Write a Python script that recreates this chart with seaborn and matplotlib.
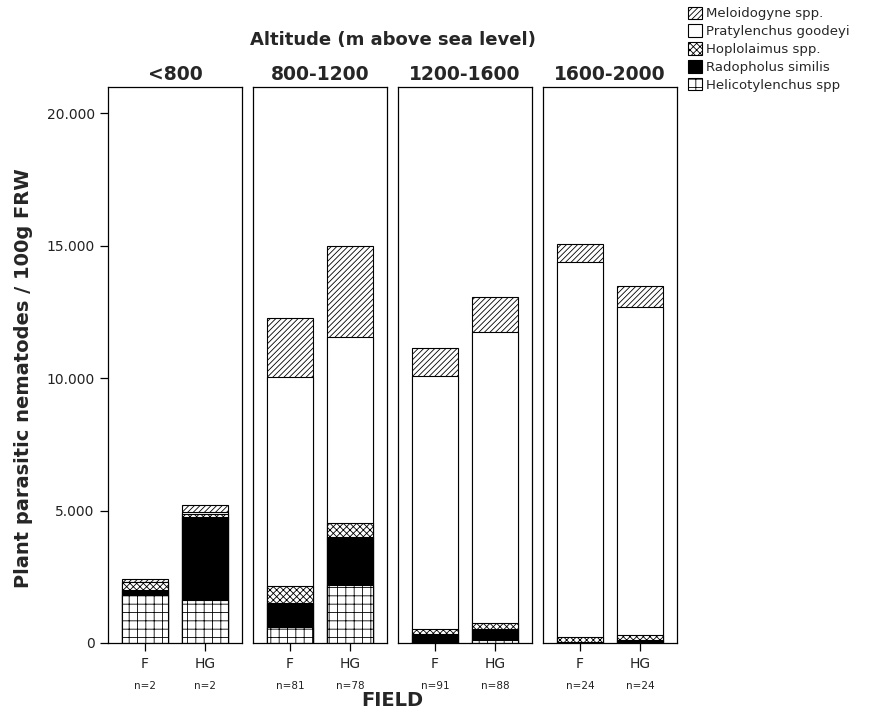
import numpy as np
import pandas as pd
import matplotlib
matplotlib.use("Agg")
import matplotlib.pyplot as plt
import seaborn as sns
from matplotlib.patches import Patch
from matplotlib.ticker import FuncFormatter, FixedLocator

# ---------------- data ----------------
altitudes = ["<800", "800-1200", "1200-1600", "1600-2000"]
fields = ["F", "HG"]
n_labels = [["n=2", "n=2"], ["n=81", "n=78"], ["n=91", "n=88"], ["n=24", "n=24"]]

# values per bar, order: (<800 F, <800 HG, 800-1200 F, 800-1200 HG, 1200-1600 F, 1200-1600 HG, 1600-2000 F, 1600-2000 HG)
helicotylenchus = [1810, 1620, 620, 2190, 20, 110, 0, 0]
radopholus = [190, 3150, 880, 1820, 310, 410, 40, 130]
hoplolaimus = [310, 120, 650, 530, 200, 250, 200, 170]
pratylenchus = [0, 60, 7880, 7020, 9550, 10980, 14150, 12390]
meloidogyne = [110, 260, 2260, 3430, 1080, 1320, 670, 790]

# bottom -> top
species_names = ["Helicotylenchus spp", "Radopholus similis", "Hoplolaimus spp.",
                 "Pratylenchus goodeyi", "Meloidogyne spp."]
species_values = [helicotylenchus, radopholus, hoplolaimus, pratylenchus, meloidogyne]
species_face = ["white", "black", "white", "white", "white"]
species_hatch = ["++", None, "xxxxx", None, "//////"]

rows = []
for i, alt in enumerate(altitudes):
    for j, f in enumerate(fields):
        k = i * 2 + j
        row = {"altitude": alt, "field": f}
        cum = 0
        for name, vals in zip(species_names, species_values):
            cum += vals[k]
            row[name] = cum
        rows.append(row)
df = pd.DataFrame(rows)

# ---------------- figure ----------------
sns.set_style("white")
plt.rcParams["font.family"] = ["DejaVu Sans"]
plt.rcParams["hatch.linewidth"] = 0.6
plt.rcParams["hatch.color"] = "black"

W, H = 881, 712
fig = plt.figure(figsize=(W / 100, H / 100), dpi=100)

panel_left = [108, 253, 398, 543]
panel_w = 134
top_px, bot_px = 87, 643

ymax = 21000
fmt = FuncFormatter(lambda v, p: f"{int(v):,}".replace(",", "."))

axes = []
for i, alt in enumerate(altitudes):
    ax = fig.add_axes([panel_left[i] / W, (H - bot_px) / H, panel_w / W, (bot_px - top_px) / H])
    axes.append(ax)
    sub = df[df["altitude"] == alt]
    # draw cumulative bars from the top layer downwards
    for s in reversed(range(len(species_names))):
        name = species_names[s]
        sns.barplot(data=sub, x="field", y=name, order=fields, ax=ax,
                    color=species_face[s], saturation=1, width=0.77,
                    edgecolor="black", linewidth=0.8, errorbar=None,
                    hatch=species_hatch[s])
    ax.set_xlim(-0.61, 1.61)
    ax.set_ylim(0, ymax)
    ax.set_xlabel("")
    ax.set_ylabel("")
    for sp in ax.spines.values():
        sp.set_visible(True)
        sp.set_color("black")
        sp.set_linewidth(0.9)
    ax.set_xticks([0, 1])
    ax.set_xticklabels(fields, fontsize=10, color="#222222")
    ax.tick_params(axis="x", direction="out", length=6, width=0.9, color="black", pad=4, bottom=True)
    if i == 0:
        ax.yaxis.set_major_locator(FixedLocator([0, 5000, 10000, 15000, 20000]))
        ax.yaxis.set_major_formatter(fmt)
        ax.tick_params(axis="y", direction="out", length=6, width=0.9, color="black",
                       labelsize=10, labelcolor="#222222", left=True)
    else:
        ax.set_yticks([])
    ax.set_title(alt, fontsize=13.5, fontweight="bold", pad=5)
    for j in range(2):
        ax.text(j, -0.078, n_labels[i][j], transform=ax.get_xaxis_transform(),
                ha="center", va="center", fontsize=7.5, color="#222222")

cx = ((panel_left[0] + panel_left[-1] + panel_w) / 2) / W
fig.text(cx, 1 - 40 / H, "Altitude (m above sea level)", ha="center", va="center",
         fontsize=13, fontweight="bold")
fig.text(cx, 1 - 700 / H, "FIELD", ha="center", va="center", fontsize=14, fontweight="bold")
fig.text(24 / W, 1 - 378 / H, "Plant parasitic nematodes / 100g FRW", rotation=90,
         ha="center", va="center", fontsize=14, fontweight="bold")

handles = []
for s in reversed(range(len(species_names))):
    handles.append(Patch(facecolor=species_face[s], edgecolor="black", linewidth=0.8,
                         hatch=species_hatch[s], label=species_names[s]))
fig.legend(handles=handles, loc="upper left", bbox_to_anchor=(685 / W, 1 - 4 / H),
           frameon=False, fontsize=9.5, handlelength=1.1, handleheight=1.1,
           handletextpad=0.3, labelspacing=0.3, borderaxespad=0.0, borderpad=0.2)

fig.savefig("out.png", dpi=100)
